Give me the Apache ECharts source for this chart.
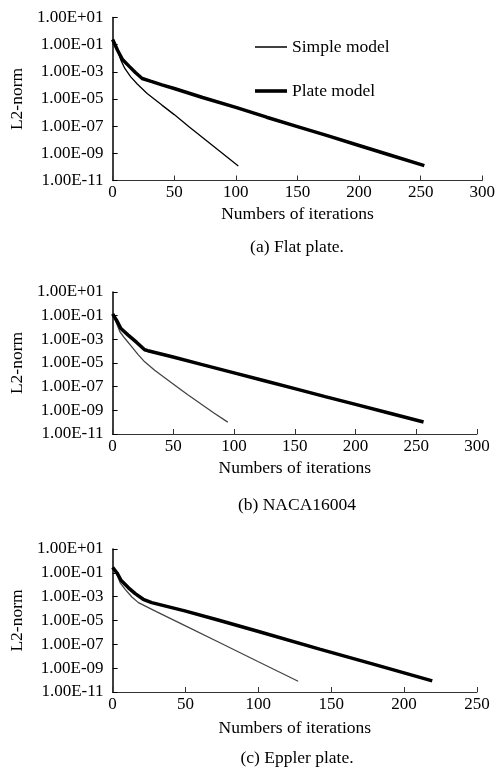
<!DOCTYPE html>
<html>
<head>
<meta charset="utf-8">
<script src="https://cdn.jsdelivr.net/npm/echarts@6/dist/echarts.min.js"></script>
<style>
html,body{margin:0;padding:0;background:#fff;}
#chart{width:498px;height:769px;}
</style>
</head>
<body>
<div id="chart"></div>
<script>
// ---- data: [iteration, log10(L2-norm)] ----
const simpleA = [[0,-0.62],[4,-1.41],[6.7,-2.14],[9.9,-2.75],[14.7,-3.37],[20,-3.9],[28,-4.6],[40,-5.45],[50,-6.15],[62,-7.05],[75,-7.98],[88,-8.92],[102,-9.94]];
const plateA = [[0,-0.62],[4,-1.41],[8,-2.1],[13.3,-2.58],[18.7,-3.07],[24,-3.49],[30.7,-3.69],[40,-3.96],[50,-4.23],[73,-4.89],[100,-5.62],[125,-6.34],[150,-7.03],[175,-7.72],[200,-8.42],[225,-9.12],[253,-9.91]];
const simpleB = [[0,-0.85],[3.3,-1.67],[6,-2.36],[10,-2.91],[15.5,-3.6],[21,-4.29],[26.4,-4.9],[34.6,-5.61],[49,-6.71],[61.9,-7.68],[72.8,-8.47],[83.7,-9.25],[94.8,-10.0]];
const plateB = [[0,-0.85],[3.3,-1.4],[6.8,-2.09],[12.8,-2.64],[19.6,-3.24],[26.4,-3.88],[29,-3.96],[49,-4.47],[73,-5.12],[100,-5.83],[125,-6.5],[150,-7.17],[175,-7.84],[200,-8.5],[225,-9.16],[256,-9.99]];
const simpleC = [[0,-0.54],[3,-1.15],[5.2,-1.84],[8.6,-2.39],[13.2,-3.03],[17.7,-3.5],[30,-4.25],[50,-5.45],[75,-6.95],[100,-8.46],[127.3,-10.1]];
const plateC = [[0,-0.54],[3,-1.01],[5.9,-1.65],[10.9,-2.26],[15.5,-2.75],[21,-3.22],[26.8,-3.5],[49.5,-4.19],[72.3,-4.96],[99.5,-5.9],[142,-7.4],[180,-8.7],[219.3,-10.07]];
const seriesNames = ['Simple model','Plate model'];
const xMaxes = [300, 300, 250];
const captions = ['(a) Flat plate.', '(b) NACA16004', '(c) Eppler plate.'];
const xTitle = 'Numbers of iterations';
const yTitle = 'L2-norm';
const expMin = -11, expMax = 1;

const FONT = 'Liberation Serif';
const chart = echarts.init(document.getElementById('chart'), null, {renderer:'canvas'});

const grids = [
  {left:109, top:17.5, width:375, height:163},
  {left:110, top:292, width:367, height:142},
  {left:110, top:549, width:367, height:143}
];
const nameGaps = [25, 25, 27];

function expLabel(v){
  const e = Math.round(v + expMin);
  return '1.00E' + (e < 0 ? '-' : '+') + String(Math.abs(e)).padStart(2,'0');
}
const shift = d => d.map(p => [p[0], p[1] - expMin]);

const xAxes = grids.map((g,i) => ({
  type:'value', gridIndex:i, min:0, max:xMaxes[i], interval:50,
  name:xTitle, nameLocation:'middle', nameGap:nameGaps[i],
  nameTextStyle:{fontFamily:FONT, fontSize:17.5, color:'#000'},
  axisLine:{lineStyle:{color:'#333', width:1}},
  axisTick:{inside:true, length:5, lineStyle:{color:'#333'}},
  axisLabel:{fontFamily:FONT, fontSize:17, color:'#000', margin:4},
  splitLine:{show:false}
}));
const yAxes = grids.map((g,i) => ({
  type:'value', gridIndex:i, min:0, max:expMax - expMin, interval:2,
  name:yTitle, nameLocation:'middle', nameGap:82, nameRotate:90,
  nameTextStyle:{fontFamily:FONT, fontSize:17.5, color:'#000'},
  axisLine:{show:true, lineStyle:{color:'#000', width:1.5}},
  axisTick:{show:true, inside:true, length:5, lineStyle:{color:'#000'}},
  axisLabel:{fontFamily:FONT, fontSize:17, color:'#000', margin:9, formatter:expLabel},
  splitLine:{show:false}
}));

const datasets = [[simpleA, plateA],[simpleB, plateB],[simpleC, plateC]];
const series = [];
datasets.forEach((pair,i) => {
  series.push({name:seriesNames[0], type:'line', xAxisIndex:i, yAxisIndex:i, data:shift(pair[0]),
    showSymbol:false, symbol:'none', lineStyle:{color: i===0 ? '#000' : '#444', width:1.3}, itemStyle:{color: i===0 ? '#000' : '#444'}, animation:false});
  series.push({name:seriesNames[1], type:'line', xAxisIndex:i, yAxisIndex:i, data:shift(pair[1]),
    showSymbol:false, symbol:'none', lineStyle:{color:'#000', width:3.5}, itemStyle:{color:'#000'}, animation:false});
});

const capY = [247, 505, 758];
chart.setOption({
  animation:false,
  grid: grids,
  xAxis: xAxes,
  yAxis: yAxes,
  legend:{
    data:[
      {name:seriesNames[0], icon:'path://M0,0L32,0L32,1.5L0,1.5Z', itemStyle:{color:'#000'}},
      {name:seriesNames[1], icon:'path://M0,0L32,0L32,3.6L0,3.6Z', itemStyle:{color:'#000'}}
    ],
    orient:'vertical', left:250, top:33, itemWidth:32, itemHeight:14, itemGap:26, symbolKeepAspect:true,
    textStyle:{fontFamily:FONT, fontSize:17.5, color:'#000'},
    selectedMode:false
  },
  graphic: captions.map((c,i) => ({
    type:'text', x:297, y:capY[i],
    style:{text:c, fontFamily:FONT, fontSize:17.5, fill:'#000', align:'center', verticalAlign:'middle'}
  })),
  series: series
});
</script>
</body>
</html>
